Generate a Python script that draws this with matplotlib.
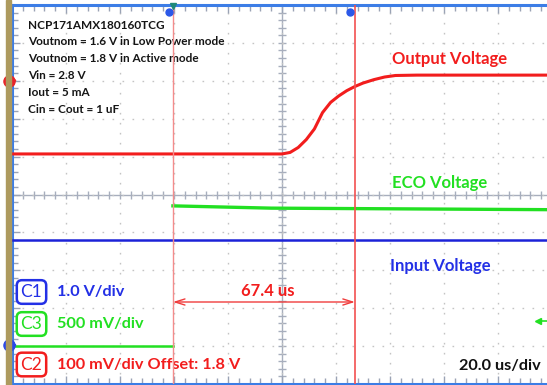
import matplotlib
matplotlib.use("Agg")
import matplotlib.pyplot as plt
from matplotlib.patches import Rectangle
import numpy as np

# ---------------- data ----------------
# time in microseconds (20 us/div), volts per channel
out_t = [-100, 0, 3, 6, 9, 12, 15, 18, 21, 24, 27, 30, 34, 38, 42, 50, 98]
out_v = [1.607, 1.607, 1.611, 1.624, 1.645, 1.673, 1.716, 1.743, 1.760, 1.774, 1.785, 1.794, 1.803, 1.810, 1.814, 1.815, 1.815]
eco_t = [-100, -40.4, -40.4, -4, 98]
eco_v = [0.0, 0.0, 1.85, 1.82, 1.80]
in_t = [-100, 98]
in_v = [2.8, 2.8]

cursor1 = -40.4
cursor2 = 27.0
delta_label = "67.4 us"

notes = ["NCP171AMX180160TCG",
         "Voutnom = 1.6 V in Low Power mode",
         "Voutnom = 1.8 V in Active mode",
         "Vin = 2.8 V",
         "Iout = 5 mA",
         "Cin = Cout = 1 uF"]

# channel scales (V/div) and screen positions (div)
c1_scale, c1_pos = 1.0, -4.0          # input, blue
c3_scale, c3_pos = 0.5, -4.0          # eco, green
c2_scale, c2_off, c2_pos = 0.1, 1.8, 3.0  # output, red

RED = "#f21d1d"
GREEN = "#22e022"
BLUE = "#1c22d8"
TXTBLUE = "#2330e6"

W, H = 547, 385
fig = plt.figure(figsize=(W / 100, H / 100), dpi=100)
fig.patch.set_facecolor("white")

# pixel geometry
X0, XC, PXDIV = 12, 282, 54.0
Y0, YC, PYDIV = 5, 194.5, 37.9
t_left = (X0 - XC) / PXDIV * 20
t_right = (W - XC) / PXDIV * 20

ax = fig.add_axes([X0 / W, (H - 384) / H, (W - X0) / W, (384 - Y0) / H])
ax.set_xlim(t_left, t_right)
ax.set_ylim(-5, 5)
ax.set_facecolor("white")

def px(x, y):
    return (x - XC) / PXDIV * 20, (YC - y) / PYDIV

# grid
ax.set_xticks(np.arange(-100, 100, 20))
ax.set_yticks(np.arange(-5, 6, 1))
ax.set_xticks(np.arange(-100, 100, 4), minor=True)
ax.set_yticks(np.arange(-5, 5.01, 0.2), minor=True)
ax.grid(True, which="major", color="#c4c4c4", linestyle=(0, (1.2, 6)), lw=1.0)
ax.tick_params(which="both", direction="in", labelbottom=False, labelleft=False,
               top=True, bottom=True, left=True, right=False, color="#9aa3b5")
ax.tick_params(which="major", length=6, width=1)
ax.tick_params(which="minor", length=4, width=1)
for s in ["left", "top", "bottom"]:
    ax.spines[s].set_color("#3c7de6")
    ax.spines[s].set_linewidth(2.2)
ax.spines["right"].set_visible(False)

# centre crosshair with minor ticks
ax.axhline(0, color="#a7aebd", lw=1.0, zorder=1)
ax.axvline(0, color="#a7aebd", lw=1.0, zorder=1)
mx = np.arange(-100, 100, 4)
ax.plot(mx, np.zeros_like(mx), ls="none", marker="|", ms=6, color="#a7aebd", zorder=1)
my = np.arange(-5, 5.01, 0.2)
ax.plot(np.zeros_like(my), my, ls="none", marker="_", ms=6, color="#a7aebd", zorder=1)

# traces
out_div = [c2_pos + (v - c2_off) / c2_scale for v in out_v]
eco_div = [c3_pos + v / c3_scale for v in eco_v]
in_div = [c1_pos + v / c1_scale for v in in_v]
ax.plot(in_t, in_div, color=BLUE, lw=1.8, zorder=3)
ax.plot(eco_t[:2], eco_div[:2], color=GREEN, lw=1.8, zorder=3)
ax.plot(eco_t[2:], eco_div[2:], color=GREEN, lw=2.4, zorder=3)
ax.plot(out_t, out_div, color=RED, lw=2.2, zorder=3)

# cursors
ax.axvline(cursor1, color="#f48c8c", lw=1.0, zorder=4)
ax.axvline(cursor2, color="#f25050", lw=1.2, zorder=4)
ya = px(0, 302)[1]
ax.annotate("", xy=(cursor1, ya), xytext=(cursor2, ya),
            arrowprops=dict(arrowstyle="<->,head_length=0.7,head_width=0.22",
                            color="#f03c3c", lw=1.0, shrinkA=0, shrinkB=0), zorder=5)
tx, ty = px(268, 291)
ax.text(tx, ty, delta_label, color=RED, fontsize=12, ha="center", va="center",
        family="Lato", weight="bold")

# top markers
for xx in (169, 350):
    a, b = px(xx, 12)
    ax.plot(a, b, "o", ms=5, color="#2b58e8", clip_on=False, zorder=6)
a, b = px(173, 6)
ax.plot(a, b, marker="v", ms=5, color="#1e8a7a", clip_on=False, zorder=7)

# left channel markers
a, b = px(9, 80.5)
ax.plot(a, b, "o", ms=8, color="#e8242a", clip_on=False, zorder=8)
ax.text(a, b, "2", color="white", fontsize=4.5, ha="center", va="center", clip_on=False, zorder=9)
a2, _ = px(20, 80.5)
ax.annotate("", xy=(a2, b), xytext=(a, b), arrowprops=dict(arrowstyle="-|>,head_length=0.3,head_width=0.15",
            color="#e8242a", lw=1.2), annotation_clip=False, zorder=8)
a, b = px(9, 345)
ax.plot(a, b, "o", ms=8, color="#2b48e8", clip_on=False, zorder=8)
ax.text(a, b, "1", color="white", fontsize=4.5, ha="center", va="center", clip_on=False, zorder=9)
ax.annotate("", xy=(a2, b), xytext=(a, b), arrowprops=dict(arrowstyle="-|>,head_length=0.3,head_width=0.15",
            color="#2b48e8", lw=1.2), annotation_clip=False, zorder=8)
# right green marker
a, b = px(538, 321)
ax.plot(a, b, marker="<", ms=4, color=GREEN, zorder=8)
a3, _ = px(547, 321)
ax.plot([a, a3], [b, b], color=GREEN, lw=1.2, zorder=8)

# khaki bar at left edge
fig.patches.append(Rectangle((6 / W, 0), 4.5 / W, 1, transform=fig.transFigure,
                             color="#ad9a5e", zorder=0))

# notes
for i, s in enumerate(notes):
    a, b = px(28, 25 + i * 16.8)
    ax.text(a, b, s, fontsize=8.5, ha="left", va="center", family="Lato",
            weight="bold", color="#151515")

# trace labels
for s, col, (xx, yy) in [("Output Voltage", RED, (392, 59)),
                         ("ECO Voltage", GREEN, (392, 183)),
                         ("Input Voltage", TXTBLUE, (390, 266))]:
    a, b = px(xx, yy)
    ax.text(a, b, s, fontsize=12, ha="left", va="center", family="Lato", weight="bold", color=col)

# channel boxes
for lab, desc, col, yy in [("C1", "1.0 V/div", TXTBLUE, 292),
                           ("C3", "500 mV/div", GREEN, 324),
                           ("C2", "100 mV/div Offset: 1.8 V", RED, 364.5)]:
    a, b = px(31.5, yy)
    ax.text(a, b, lab, fontsize=12.5, ha="center", va="center", family="Lato", color=col,
            bbox=dict(boxstyle="round,pad=0.22,rounding_size=0.3", fc="white", ec=col, lw=1.8))
    a, b = px(57, yy)
    ax.text(a, b, desc, fontsize=11.7, ha="left", va="center", family="Lato", weight="bold", color=col)

a, b = px(541, 366)
ax.text(a, b, "20.0 us/div", fontsize=11.7, ha="right", va="center", family="Lato", weight="bold",
        color="#111111")

fig.savefig("out.png", dpi=100)
